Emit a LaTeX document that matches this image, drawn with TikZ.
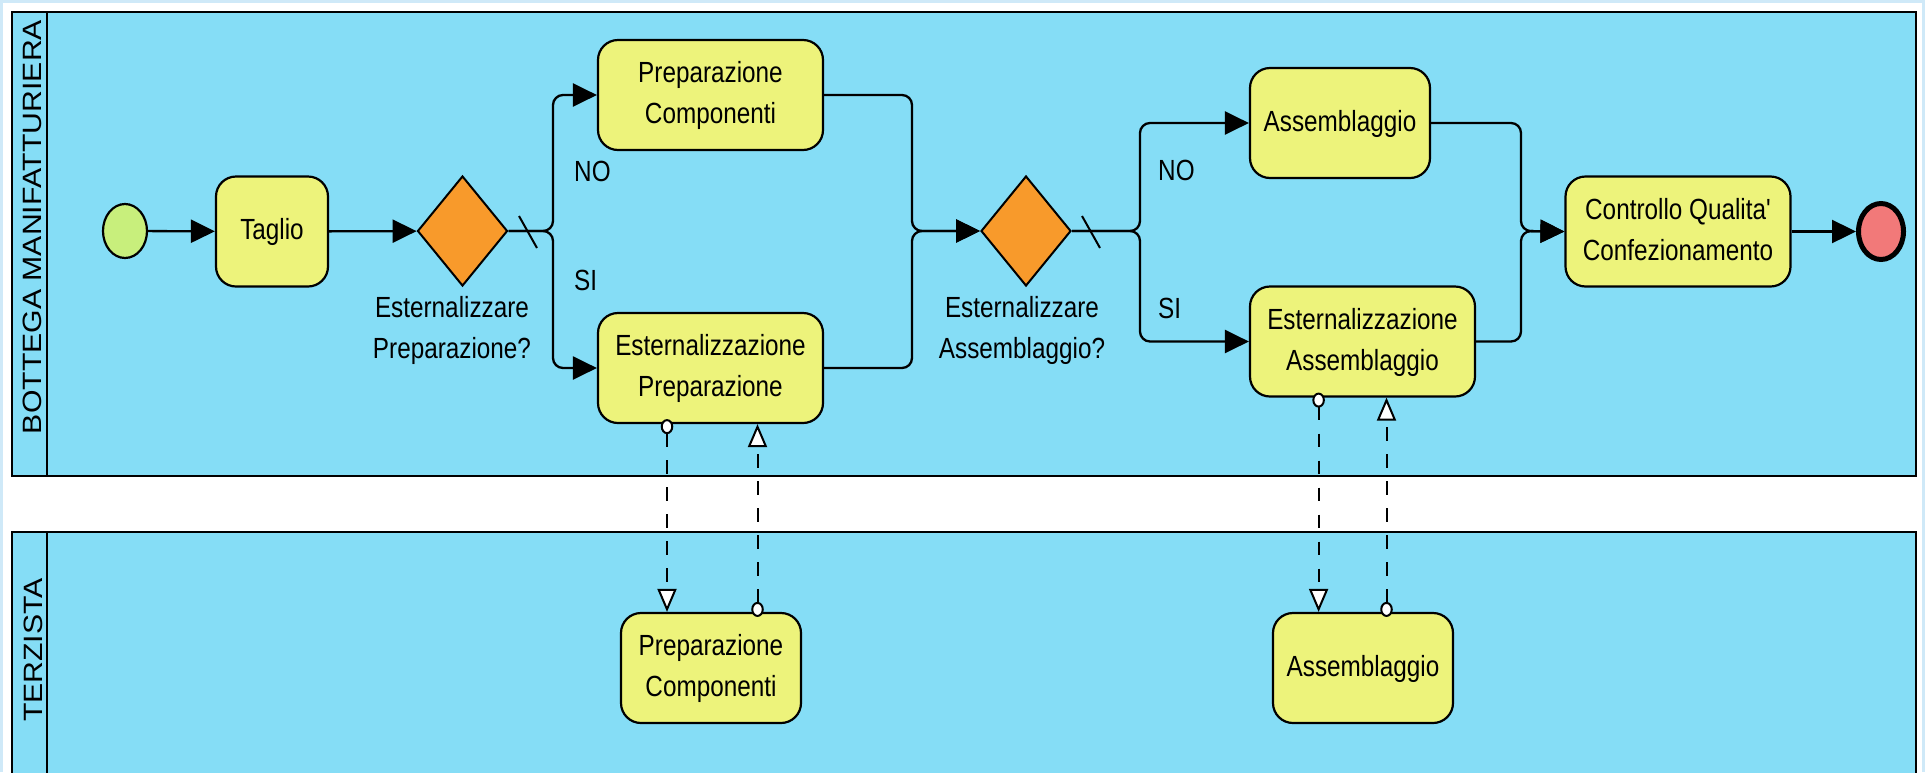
\documentclass[tikz,border=0pt]{standalone}
\usepackage{fontspec}
\setmainfont{Liberation Sans}[Ligatures=TeXOff]
\usepackage{graphicx}
\usetikzlibrary{shapes.geometric,arrows.meta,calc}
\definecolor{lanec}{HTML}{85DDF6}
\definecolor{taskc}{HTML}{EDF37B}
\definecolor{gatec}{HTML}{F89A2B}
\definecolor{startc}{HTML}{C8EF7C}
\definecolor{endc}{HTML}{F27979}
\definecolor{edgec}{HTML}{CFE9F8}
\newcommand{\tl}[1]{\scalebox{1}[1.2]{\begin{tabular}{@{}c@{}}#1\end{tabular}}}
\begin{document}
\begin{tikzpicture}[x=1pt,y=-1pt,
  font=\fontsize{24.3}{34}\selectfont,
  pool/.style={draw=black, line width=2.2pt, fill=lanec},
  taskbox/.style={draw=black, line width=2.2pt, fill=taskc, rounded corners=20pt,
    inner sep=0pt, minimum width=#1, minimum height=110pt},
  taskbox/.default=225pt,
  gw/.style={diamond, draw=black, line width=2pt, fill=gatec, minimum width=90pt,
    minimum height=110pt, inner sep=0pt},
  flow/.style={line width=2.3pt, rounded corners=10pt, -{Triangle[length=24pt,width=23pt]}},
  msgflow/.style={line width=2pt, dash pattern=on 13.5pt off 13.5pt,
    {Ellipse[length=15pt,width=12.5pt,fill=white]}-{Triangle[length=23pt,width=19pt,fill=white]},
    shorten <=-5pt},
  lbl/.style={inner sep=0pt},
  lanetitle/.style={rotate=90, inner sep=0pt, font=\fontsize{26.5}{30}\selectfont}]
\useasboundingbox (0,0) rectangle (1925,772);
% background
\fill[white] (0,0) rectangle (1925,772);
\fill[edgec] (0,0) rectangle (3,772);
\fill[edgec] (0,0) rectangle (1925,3);
\fill[edgec] (1922,0) rectangle (1925,772);
% pools
\draw[pool] (12,12) rectangle (1916,476);
\draw[line width=2.2pt] (47,12) -- (47,476);
\draw[pool] (12,532) rectangle (1916,790);
\draw[line width=2.2pt] (47,532) -- (47,790);
\node[lanetitle] (lane1) at (32,227) {\scalebox{1.14}[1]{BOTTEGA MANIFATTURIERA}};
\node[lanetitle] (lane2) at (33,650) {\scalebox{1.14}[1]{TERZISTA}};
% nodes
\node[ellipse, draw=black, line width=2.2pt, fill=startc, minimum width=44pt,
  minimum height=54pt, inner sep=0pt] (start) at (125,231) {};
\node[taskbox=112pt] (taglio) at (272,231.5) {\tl{Taglio}};
\node[gw] (gw1) at (462.5,231) {};
\node[lbl] (gw1l) at (452,330) {\tl{Esternalizzare\\Preparazione?}};
\node[taskbox] (prepA) at (710.5,95) {\tl{Preparazione\\Componenti}};
\node[taskbox] (estprep) at (710.5,368) {\tl{Esternalizzazione\\Preparazione}};
\node[lbl, anchor=west] (no1) at (574,173) {\tl{NO}};
\node[lbl, anchor=west] (si1) at (574,282) {\tl{SI}};
\node[gw] (gw2) at (1026,231) {};
\node[lbl] (gw2l) at (1022,330) {\tl{Esternalizzare\\Assemblaggio?}};
\node[lbl, anchor=west] (no2) at (1158,172) {\tl{NO}};
\node[lbl, anchor=west] (si2) at (1158,310) {\tl{SI}};
\node[taskbox=180pt] (ass) at (1340,123) {\tl{Assemblaggio}};
\node[taskbox] (estass) at (1362.5,341.5) {\tl{Esternalizzazione\\Assemblaggio}};
\node[taskbox] (ctrl) at (1678,231.5) {\tl{Controllo Qualita'\\Confezionamento}};
\node[ellipse, draw=black, line width=5pt, fill=endc, minimum width=45pt,
  minimum height=56pt, inner sep=0pt] (end) at (1881,231.5) {};
\node[taskbox=180pt] (lowprep) at (711,668) {\tl{Preparazione\\Componenti}};
\node[taskbox=180pt] (lowass) at (1363,668) {\tl{Assemblaggio}};
% junctions
\coordinate (j1) at (553,231);
\coordinate (j2) at (912,231);
\coordinate (j3) at (1140,231);
\coordinate (j4) at (1521,231);
\coordinate (m1) at (667,0);
\coordinate (m2) at (757.5,0);
\coordinate (m3) at (1318.6,0);
\coordinate (m4) at (1386.5,0);
% sequence flows
\draw[flow] (start) -- (taglio);
\draw[flow] (taglio) -- (gw1);
\draw[flow] (gw1.east) -- (j1) |- (prepA.west);
\draw[flow] (gw1.east) -- (j1) |- (estprep.west);
\draw[line width=2pt] (519,216) -- (537,248);
\draw[flow] (prepA.east) -| (j2) -- (gw2.west);
\draw[flow] (estprep.east) -| (j2) -- (gw2.west);
\draw[flow] (gw2.east) -- (j3) |- (ass.west);
\draw[flow] (gw2.east) -- (j3) |- (estass.west);
\draw[line width=2pt] (1082,216) -- (1100,248);
\draw[flow] (ass.east) -| (j4) -- (ctrl.west);
\draw[flow] (estass.east) -| (j4) -- (ctrl.west);
\draw[flow] (ctrl) -- (end);
% message flows
\draw[msgflow] (estprep.south -| m1) -- (lowprep.north -| m1);
\draw[msgflow] (lowprep.north -| m2) -- (estprep.south -| m2);
\draw[msgflow] (estass.south -| m3) -- (lowass.north -| m3);
\draw[msgflow] (lowass.north -| m4) -- (estass.south -| m4);
\end{tikzpicture}
\end{document}
